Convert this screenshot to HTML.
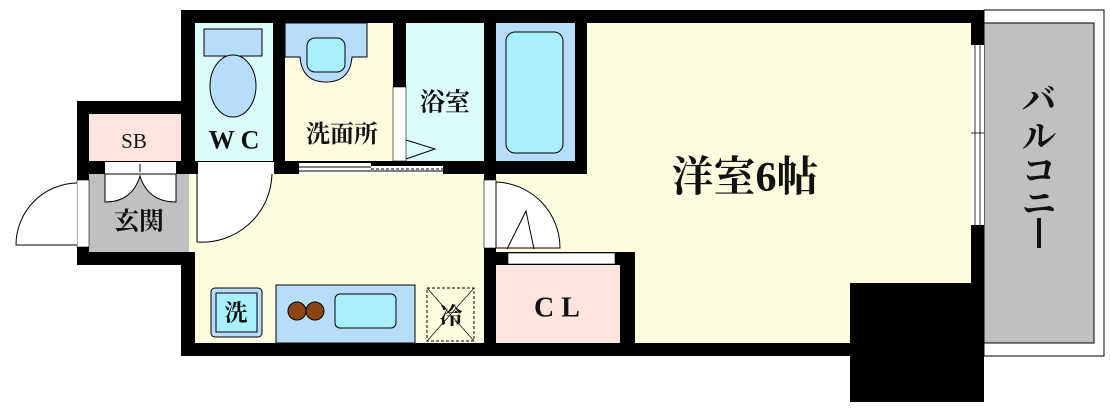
<!DOCTYPE html>
<html><head><meta charset="utf-8"><style>
html,body{margin:0;padding:0;background:#fff;}
svg{display:block;}
text{font-family:"Liberation Serif","Noto Serif CJK JP","Noto Serif CJK SC",serif;font-weight:bold;fill:#111;text-anchor:middle;dominant-baseline:central;}
</style></head><body>
<svg width="1110" height="410" viewBox="0 0 1110 410" xmlns="http://www.w3.org/2000/svg">
<!-- balcony -->
<rect x="984" y="10" width="120" height="346" fill="#fff" stroke="#000" stroke-width="1"/>
<rect x="984" y="23" width="110" height="320" fill="#c0c0c0" stroke="#000" stroke-width="1"/>
<!-- main black walls -->
<rect x="181" y="10" width="803" height="346" fill="#000"/>
<rect x="77" y="101" width="118" height="164" fill="#000"/>
<rect x="850" y="283" width="134" height="119" fill="#000"/>
<!-- rooms -->
<rect x="587" y="23" width="384" height="320" fill="#fffde0"/>
<rect x="496" y="174" width="92" height="78" fill="#fffde0"/>
<rect x="850" y="283" width="121" height="60" fill="#000"/>
<rect x="484" y="252" width="151" height="91" fill="#000"/>
<rect x="195" y="174" width="289" height="169" fill="#fffde0"/>
<rect x="89" y="114" width="92" height="47" fill="#fde4dc"/>
<rect x="89" y="174" width="106" height="78" fill="#c0c0c0"/>
<rect x="189" y="174" width="6" height="78" fill="#fffde0"/>
<rect x="195" y="23" width="78" height="138" fill="#dcfcfc"/>
<rect x="285" y="23" width="108" height="138" fill="#fffbe0"/>
<rect x="406" y="23" width="78" height="138" fill="#dcfcfc"/>
<rect x="496" y="23" width="79" height="138" fill="#b8dcfc"/>
<rect x="506" y="32" width="57" height="121" rx="9" fill="#a8f0fc" stroke="#000" stroke-width="1"/>
<rect x="496" y="265" width="124" height="78" fill="#fde4dc"/>
<rect x="508" y="253" width="107" height="11" fill="#fff" stroke="#000" stroke-width="0.6"/>
<!-- WC fixtures -->
<rect x="204" y="29" width="58" height="27" fill="#b8dcfc" stroke="#000" stroke-width="1"/>
<ellipse cx="233" cy="86" rx="23" ry="31" fill="#b8dcfc" stroke="#000" stroke-width="1"/>
<!-- washbasin -->
<path d="M285 23 H367 V57 H352 Q350 82 326 82 Q302 82 300 57 H285 Z" fill="#b8dcfc" stroke="#000" stroke-width="1"/>
<rect x="307" y="38" width="38" height="34" rx="8" fill="#a8f0fc" stroke="#000" stroke-width="1"/>
<!-- washroom/bath door -->
<rect x="393" y="87" width="13" height="74" fill="#fff" stroke="#000" stroke-width="0.6"/>
<path d="M406 140 L435 149 L406 159" fill="none" stroke="#000" stroke-width="1"/>
<!-- WC door -->
<rect x="198" y="162" width="76" height="12" fill="#fff"/>
<path d="M197 174 V242 A70 70 0 0 0 272 174" fill="#fff" stroke="#000" stroke-width="1"/>
<!-- washroom sliding door -->
<rect x="299" y="163" width="144" height="11" fill="#fff"/>
<line x1="299" y1="167" x2="371" y2="167" stroke="#000" stroke-width="1"/>
<line x1="299" y1="171" x2="443" y2="171" stroke="#000" stroke-width="1"/>
<line x1="371" y1="169" x2="443" y2="169" stroke="#000" stroke-width="1" stroke-dasharray="3,2"/>
<rect x="371" y="161" width="113" height="5" fill="#000"/>
<!-- closet doors at SB -->
<rect x="105" y="162" width="71" height="12" fill="#fff"/>
<line x1="140" y1="164" x2="140" y2="172" stroke="#000" stroke-width="1"/>
<path d="M105 174 V202 Q132 202 140 176 Q148 202 176 202 V174 Z" fill="#fff" stroke="#000" stroke-width="1"/>
<!-- entry door -->
<rect x="77" y="180" width="12" height="67" fill="#fff" stroke="#000" stroke-width="0.6"/>
<path d="M77 183 A62 62 0 0 0 16 245 H77" fill="#fff" stroke="#000" stroke-width="1"/>
<!-- room door -->
<rect x="484" y="180" width="12" height="68" fill="#fff" stroke="#000" stroke-width="0.6"/>
<path d="M496 182 A66 66 0 0 1 560 248 H496 Z" fill="#fff" stroke="#000" stroke-width="1"/>
<path d="M507 249 L526 211 L534 249" fill="none" stroke="#000" stroke-width="1"/>
<!-- window -->
<rect x="971" y="45" width="13" height="180" fill="#fff"/>
<line x1="975" y1="45" x2="975" y2="225" stroke="#000" stroke-width="0.8"/>
<line x1="980" y1="45" x2="980" y2="225" stroke="#000" stroke-width="0.8"/>
<line x1="971" y1="133" x2="984" y2="133" stroke="#000" stroke-width="0.8"/>
<!-- kitchen -->
<rect x="211" y="288" width="51" height="49" rx="4" fill="#b8dcfc" stroke="#000" stroke-width="1"/>
<rect x="216" y="293" width="41" height="39" fill="#a8f0fc" stroke="#000" stroke-width="1"/>
<rect x="276" y="285" width="139" height="58" fill="#b8dcfc" stroke="#000" stroke-width="1"/>
<circle cx="297" cy="311" r="9" fill="#8b4513" stroke="#000" stroke-width="1"/>
<circle cx="315" cy="311" r="9" fill="#8b4513" stroke="#000" stroke-width="1"/>
<rect x="335" y="294" width="61" height="34" rx="5" fill="#a8f0fc" stroke="#000" stroke-width="1"/>
<rect x="427" y="288" width="47" height="53" fill="none" stroke="#000" stroke-width="1" stroke-dasharray="3,2"/>
<line x1="427" y1="288" x2="474" y2="341" stroke="#000" stroke-width="0.7"/>
<line x1="474" y1="288" x2="427" y2="341" stroke="#000" stroke-width="0.7"/>
<!-- labels -->
<text x="134" y="141" font-size="21" style="font-weight:normal">SB</text>
<text x="234" y="140" font-size="26">W C</text>
<text x="342" y="135" font-size="24">洗面所</text>
<text x="445" y="103" font-size="25">浴室</text>
<text x="139" y="222" font-size="25">玄関</text>
<text x="236" y="313" font-size="23">洗</text>
<text x="451" y="316" font-size="23">冷</text>
<text x="557" y="308" font-size="28">C L</text>
<text x="745" y="178" font-size="42">洋室6帖</text>
<text x="1039" y="101" font-size="34">バ</text>
<text x="1039" y="138" font-size="34">ル</text>
<text x="1039" y="172" font-size="34">コ</text>
<text x="1039" y="205" font-size="34">ニ</text>
<rect x="1037" y="218" width="4" height="30" fill="#111"/>
</svg>
</body></html>
